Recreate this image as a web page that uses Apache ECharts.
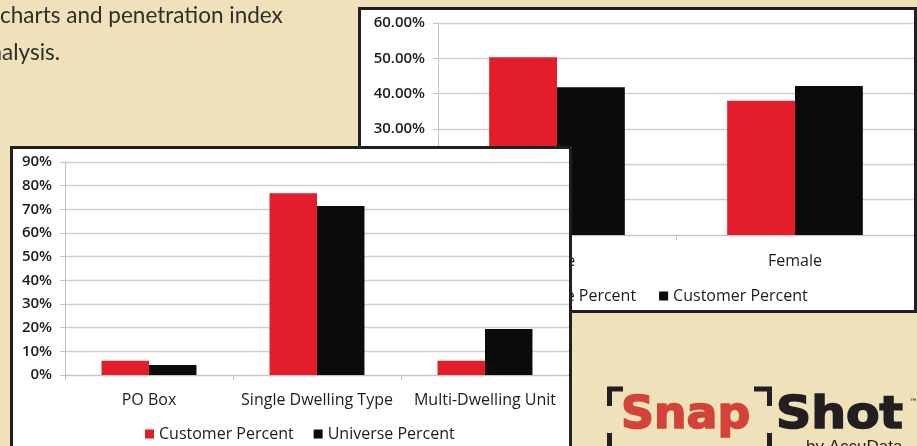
<!DOCTYPE html>
<html>
<head>
<meta charset="utf-8">
<script src="https://cdn.jsdelivr.net/npm/echarts@6/dist/echarts.min.js"></script>
<style>
  html, body { margin: 0; padding: 0; }
  #wrap { position: relative; width: 917px; height: 446px; overflow: hidden; background: #EFE1BA; }
  #bg { position: absolute; left: 0; top: 0; width: 917px; height: 446px; }
  #topChart { position: absolute; left: 358px; top: 7px; width: 553px; height: 300px; border: 3px solid #231f20; background: #ffffff; }
  #botChart { position: absolute; left: 10px; top: 146px; width: 556px; height: 310px; border: 3px solid #231f20; background: #ffffff; }
</style>
</head>
<body>
<div id="wrap">
  <div id="bg"></div>
  <div id="topChart"></div>
  <div id="botChart"></div>
</div>
<script>
// ---- Data ----
const topCategories = ['Male', 'Female'];
const topSeriesNames = ['Universe Percent', 'Customer Percent'];
const topUniverse = [50.3, 38.0];
const topCustomer = [41.8, 42.2];
const topTicks = [0, 60, 10]; // min, max, interval

const botCategories = ['PO Box', 'Single Dwelling Type', 'Multi-Dwelling Unit'];
const botSeriesNames = ['Customer Percent', 'Universe Percent'];
const botCustomer = [6.0, 76.8, 6.0];
const botUniverse = [4.2, 71.4, 19.4];
const botTicks = [0, 90, 10];

const introLines = ['charts and penetration index', 'nalysis.'];
const logoParts = ['Snap', 'Shot', '™', 'by AccuData'];

// ---- Styles ----
const RED = '#E31D2C';
const BLACK = '#0b0b0b';
const FONT = 'Open Sans';
const TXT = '#1c1c1c';
const GRID = '#cfcfcf';

// ---- Background: intro text + logo ----
const bg = echarts.init(document.getElementById('bg'), null, { renderer: 'canvas' });
bg.setOption({
  animation: false,
  backgroundColor: 'transparent',
  graphic: [
    { type: 'text', x: 0, y: 4, style: { text: introLines[0], font: '22.5px Lato', fill: '#2e2e2e' } },
    { type: 'text', x: -10.5, y: 41, style: { text: introLines[1], font: '22.5px Lato', fill: '#2e2e2e' } },
    // viewfinder corners
    { type: 'polyline', shape: { points: [[609.5, 406], [609.5, 389], [623, 389]] }, style: { stroke: '#231f20', lineWidth: 5, fill: null } },
    { type: 'polyline', shape: { points: [[609.5, 433], [609.5, 452]] }, style: { stroke: '#231f20', lineWidth: 5, fill: null } },
    { type: 'polyline', shape: { points: [[754, 389], [769.5, 389], [769.5, 406]] }, style: { stroke: '#231f20', lineWidth: 5, fill: null } },
    { type: 'polyline', shape: { points: [[769.5, 433], [769.5, 452]] }, style: { stroke: '#231f20', lineWidth: 5, fill: null } },
    { type: 'text', x: 621, y: 395, scaleX: 1.04, style: { text: logoParts[0], font: 'bold 44px "DejaVu Sans"', fill: '#D4433A', stroke: '#D4433A', lineWidth: 1.6 } },
    { type: 'text', x: 776, y: 395, scaleX: 1.11, style: { text: logoParts[1], font: 'bold 44px "DejaVu Sans"', fill: '#231f20', stroke: '#231f20', lineWidth: 1.6 } },
    { type: 'text', x: 909, y: 398, style: { text: logoParts[2], font: '9px "DejaVu Sans"', fill: '#231f20' } },
    { type: 'text', x: 806, y: 439, style: { text: logoParts[3], font: '17px "Liberation Sans"', fill: '#231f20' } }
  ]
});

function makeChart(el, cfg) {
  const c = echarts.init(el, null, { renderer: 'canvas' });
  c.setOption({
    animation: false,
    backgroundColor: 'transparent',
    grid: cfg.grid,
    legend: {
      left: cfg.legendLeft, top: cfg.legendTop,
      itemWidth: 9, itemHeight: 9, itemGap: cfg.legendGap, icon: 'rect',
      textStyle: { fontFamily: FONT, fontSize: 16, color: TXT, fontWeight: 500 },
      data: cfg.names
    },
    xAxis: {
      type: 'category', data: cfg.categories,
      axisLine: { lineStyle: { color: '#c4c4c4', width: 1 } },
      axisTick: { show: true, length: 5, lineStyle: { color: '#c4c4c4' } },
      axisLabel: { fontFamily: FONT, fontSize: 16, color: TXT, fontWeight: 500, margin: cfg.xMargin, interval: 0 }
    },
    yAxis: {
      type: 'value', min: cfg.ticks[0], max: cfg.ticks[1], interval: cfg.ticks[2],
      axisLine: { show: true, lineStyle: { color: '#c4c4c4', width: 1 } },
      axisTick: { show: true, length: 5, lineStyle: { color: '#c4c4c4' } },
      splitLine: { lineStyle: { color: GRID, width: 1.4 } },
      axisLabel: { fontFamily: FONT, fontSize: cfg.yFont, color: TXT, fontWeight: 600, margin: cfg.yMargin, formatter: cfg.yFormat }
    },
    series: [
      { name: cfg.names[0], type: 'bar', data: cfg.s1, itemStyle: { color: cfg.c1 }, barGap: '0%', barCategoryGap: cfg.catGap },
      { name: cfg.names[1], type: 'bar', data: cfg.s2, itemStyle: { color: cfg.c2 }, barGap: '0%', barCategoryGap: cfg.catGap }
    ]
  });
  return c;
}

makeChart(document.getElementById('topChart'), {
  grid: { left: 77, top: 13, width: 484, height: 212 },
  legendLeft: 129, legendTop: 273, legendGap: 23,
  names: topSeriesNames, categories: topCategories,
  ticks: topTicks, yFont: 15, yMargin: 13, xMargin: 18,
  yFormat: v => v.toFixed(2) + '%',
  s1: topUniverse, s2: topCustomer, c1: RED, c2: BLACK, catGap: '43%'
});

makeChart(document.getElementById('botChart'), {
  grid: { left: 52, top: 13, width: 510, height: 213 },
  legendLeft: 127, legendTop: 272, legendGap: 20,
  names: botSeriesNames, categories: botCategories,
  ticks: botTicks, yFont: 15, yMargin: 13, xMargin: 17,
  yFormat: v => v + '%',
  s1: botCustomer, s2: botUniverse, c1: RED, c2: BLACK, catGap: '43.5%'
});
</script>
</body>
</html>
